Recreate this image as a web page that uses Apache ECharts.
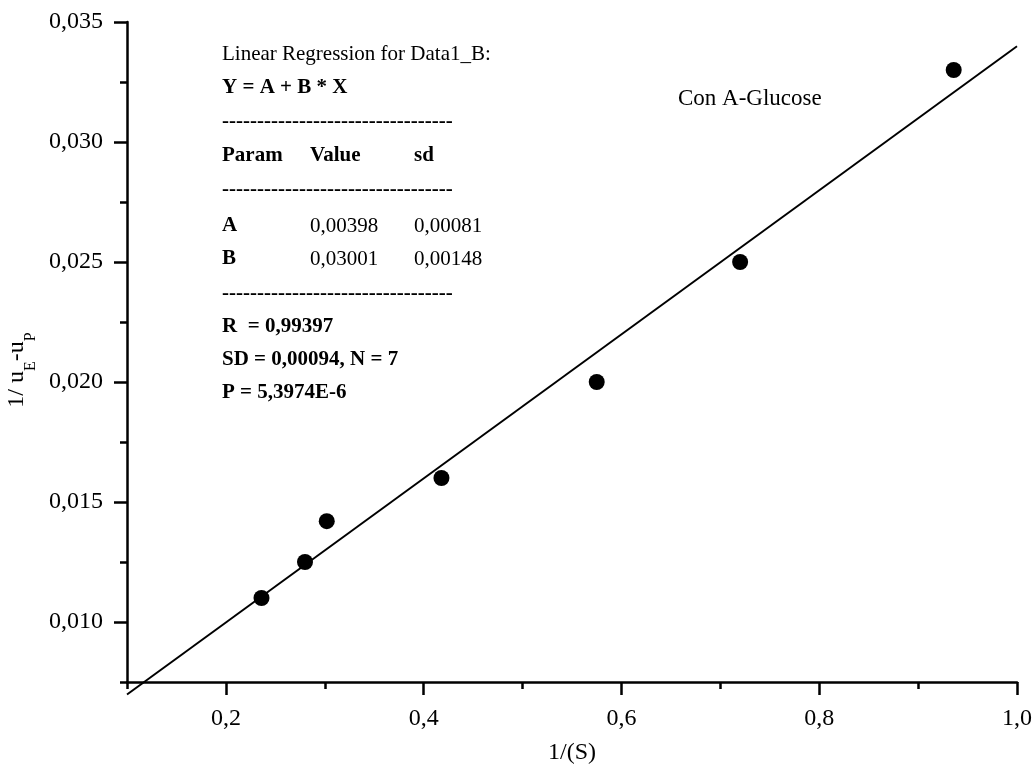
<!DOCTYPE html>
<html>
<head>
<meta charset="utf-8">
<script src="https://cdn.jsdelivr.net/npm/echarts@6/dist/echarts.min.js"></script>
<style>
html,body{margin:0;padding:0;background:#fff;}
#chart{width:1034px;height:764px;}
</style>
</head>
<body>
<div id="chart"></div>
<script>
// ---- data ----
const pointsX = [0.236, 0.280, 0.302, 0.418, 0.575, 0.720, 0.936];
const pointsY = [0.0110, 0.0125, 0.0142, 0.0160, 0.0200, 0.0250, 0.0330];
const fitX = [0.10, 1.00];
const fitY = [0.00698, 0.03399];
const xMajorTicks = [0.2, 0.4, 0.6, 0.8, 1.0];
const xMinorTicks = [0.1, 0.3, 0.5, 0.7, 0.9];
const yMajorTicks = [0.010, 0.015, 0.020, 0.025, 0.030, 0.035];
const yMinorTicks = [0.0075, 0.0125, 0.0175, 0.0225, 0.0275, 0.0325];
const xName = '1/(S)';
const annotationLabel = 'Con A-Glucose';
const regTitle = 'Linear Regression for Data1_B:';
const regEquation = 'Y = A + B * X';
const regDashes = '---------------------------------';
const regHeader = ['Param', 'Value', 'sd'];
const regRows = [['A', '0,00398', '0,00081'], ['B', '0,03001', '0,00148']];
const regStats = ['R  = 0,99397', 'SD = 0,00094, N = 7', 'P = 5,3974E-6'];

const FONT = "'Liberation Serif', 'Times New Roman', serif";
const chart = echarts.init(document.getElementById('chart'));

const scatterData = pointsX.map((x, i) => [x, pointsY[i]]);
const fitData = fitX.map((x, i) => [x, fitY[i]]);

// text block layout
const col = [222, 310, 414];
const rowY = [54, 88, 122, 156, 190, 226, 259, 294, 327, 360, 393];
const fs = 21;
function txt(x, y, s, bold) {
  return { type: 'text', x: x, y: y, silent: true,
    style: { text: s, fill: '#000', font: (bold ? 'bold ' : '') + fs + 'px ' + FONT, textVerticalAlign: 'middle', textAlign: 'left' } };
}
const g = [];
g.push(txt(col[0], rowY[0], regTitle, false));
g.push(txt(col[0], rowY[1], regEquation, true));
g.push(txt(col[0], rowY[2], regDashes, true));
regHeader.forEach((h, i) => g.push(txt(col[i], rowY[3], h, true)));
g.push(txt(col[0], rowY[4], regDashes, true));
regRows.forEach((r, ri) => r.forEach((c, ci) => g.push(txt(col[ci], rowY[5 + ri], c, ci === 0))));
g.push(txt(col[0], rowY[7], regDashes, true));
regStats.forEach((s, i) => g.push(txt(col[0], rowY[8 + i], s, true)));
g.push({ type: 'text', x: 678, y: 99, silent: true,
  style: { text: annotationLabel, fill: '#000', font: '23px ' + FONT, textVerticalAlign: 'middle', textAlign: 'left' } });
// y axis title with subscripts
g.push({ type: 'text', x: 22, y: 370, rotation: Math.PI / 2, silent: true,
  style: { text: '{m|1/ u}{s|E}{m|-u}{s|P}', fill: '#000', align: 'center', verticalAlign: 'middle',
    rich: {
      m: { fontSize: 24, fontFamily: FONT, fill: '#000', padding: [0, 0, 10, 0], verticalAlign: 'bottom' },
      s: { fontSize: 16, fontFamily: FONT, fill: '#000', verticalAlign: 'bottom' }
    } } });

const fmtY = v => v.toFixed(3).replace('.', ',');
const fmtX = v => v.toFixed(1).replace('.', ',');

chart.setOption({
  animation: false,
  backgroundColor: '#fff',
  grid: { left: 127, right: 17, top: 22, bottom: 82, containLabel: false, outerBoundsMode: 'none' },
  xAxis: [{
    type: 'value', min: 0.1, max: 1.0, position: 'bottom',
    name: xName, nameLocation: 'middle', nameGap: 59,
    nameTextStyle: { fontFamily: FONT, fontSize: 24, color: '#000' },
    axisLine: { show: true, onZero: false, lineStyle: { color: '#000', width: 2.5 } },
    axisTick: { show: true, customValues: xMajorTicks, length: 13, lineStyle: { color: '#000', width: 2.5 } },
    axisLabel: { customValues: xMajorTicks, formatter: fmtX, margin: 25, fontFamily: FONT, fontSize: 24, color: '#000' },
    splitLine: { show: false }
  }, {
    type: 'value', min: 0.1, max: 1.0, position: 'bottom',
    axisLine: { show: false, onZero: false },
    axisTick: { show: true, customValues: xMinorTicks, length: 7, lineStyle: { color: '#000', width: 2.5 } },
    axisLabel: { show: false },
    splitLine: { show: false }
  }],
  yAxis: [{
    type: 'value', min: 0.0075, max: 0.035, position: 'left',
    axisLine: { show: true, onZero: false, lineStyle: { color: '#000', width: 2.5 } },
    axisTick: { show: true, customValues: yMajorTicks, length: 13, lineStyle: { color: '#000', width: 2.5 } },
    axisLabel: { customValues: yMajorTicks, formatter: fmtY, margin: 24, fontFamily: FONT, fontSize: 24, color: '#000' },
    splitLine: { show: false }
  }, {
    type: 'value', min: 0.0075, max: 0.035, position: 'left',
    axisLine: { show: false, onZero: false },
    axisTick: { show: true, customValues: yMinorTicks, length: 7, lineStyle: { color: '#000', width: 2.5 } },
    axisLabel: { show: false },
    splitLine: { show: false }
  }],
  series: [{
    type: 'line', data: fitData, xAxisIndex: 0, yAxisIndex: 0,
    showSymbol: false, symbol: 'none', clip: false,
    lineStyle: { color: '#000', width: 2 }, z: 2
  }, {
    type: 'scatter', data: scatterData, xAxisIndex: 0, yAxisIndex: 0,
    symbol: 'circle', symbolSize: 16, itemStyle: { color: '#000', opacity: 1 }, z: 3
  }],
  graphic: g
});
</script>
</body>
</html>
